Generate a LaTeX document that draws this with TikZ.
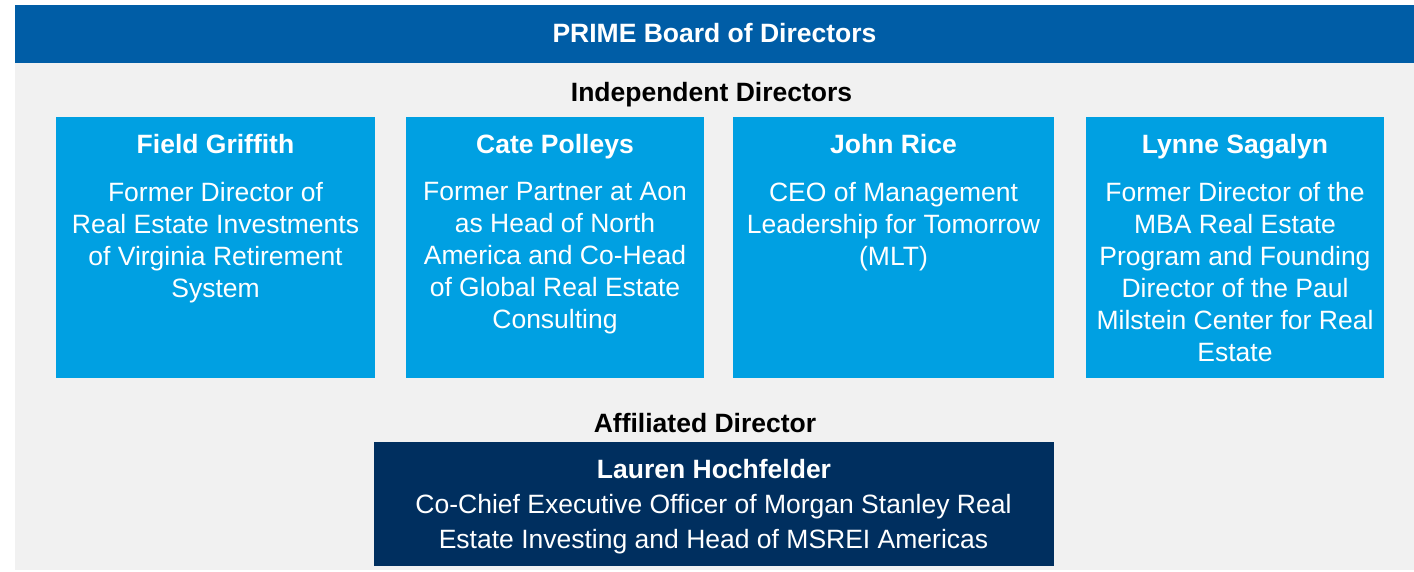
\documentclass[tikz,border=0pt]{standalone}
\usepackage{fontspec}
\setmainfont{Liberation Sans}
\definecolor{hdrblue}{RGB}{0,93,166}
\definecolor{cyanbox}{RGB}{0,160,226}
\definecolor{navybox}{RGB}{0,47,95}
\definecolor{bggray}{RGB}{241,241,241}
\begin{document}
\begin{tikzpicture}[x=1pt,y=-1pt,
  panel/.style={fill=#1,draw=none,inner sep=0pt,outer sep=0pt,anchor=north west},
  nametext/.style={font=\fontsize{26.5}{32}\selectfont\bfseries,text=white,anchor=base,inner sep=0pt},
  bodytext/.style={font=\fontsize{26.5}{32}\selectfont,text=white,align=center,anchor=north,inner sep=0pt},
  navybody/.style={font=\fontsize{26.5}{35}\selectfont,text=white,align=center,anchor=north,inner sep=0pt},
  heading/.style={font=\fontsize{26.5}{32}\selectfont\bfseries,text=black,anchor=base,inner sep=0pt}]
\useasboundingbox (0,0) rectangle (1414,571);
% background and header
\node[panel=bggray,minimum width=1399pt,minimum height=507pt] (bg) at (15,63) {};
\node[panel=hdrblue,minimum width=1399pt,minimum height=58pt] (hdr) at (15,5) {};
\node[nametext] (title) at (714.5,42.5) {PRIME Board of Directors};
\node[heading] (indep) at (711.5,101.5) {Independent Directors};
% independent director boxes
\node[panel=cyanbox,minimum width=319pt,minimum height=261pt] (b1) at (56,117) {};
\node[panel=cyanbox,minimum width=298pt,minimum height=261pt] (b2) at (406,117) {};
\node[panel=cyanbox,minimum width=321pt,minimum height=261pt] (b3) at (733,117) {};
\node[panel=cyanbox,minimum width=298pt,minimum height=261pt] (b4) at (1086,117) {};
\node[nametext] (n1) at (215.5,153.5) {Field Griffith};
\node[nametext] (n2) at (555,153.5) {Cate Polleys};
\node[nametext] (n3) at (893.5,153.5) {John Rice};
\node[nametext] (n4) at (1235,153.5) {Lynne Sagalyn};
\node[bodytext] (t1) at (215.5,182) {Former Director of\\Real Estate Investments\\of Virginia Retirement\\System};
\node[bodytext] (t2) at (555,182) {Former Partner at Aon\\as Head of North\\America and Co-Head\\of Global Real Estate\\Consulting};
\node[bodytext] (t3) at (893.5,182) {CEO of Management\\Leadership for Tomorrow\\(MLT)};
\node[bodytext] (t4) at (1235,182) {Former Director of the\\MBA Real Estate\\Program and Founding\\Director of the Paul\\Milstein Center for Real\\Estate};
% affiliated director
\node[heading] (affil) at (705,432.5) {Affiliated Director};
\node[panel=navybox,minimum width=680pt,minimum height=124pt] (b5) at (374,442) {};
\node[nametext] (n5) at (714,478.5) {Lauren Hochfelder};
\node[navybody] (t5) at (713.5,494) {Co-Chief Executive Officer of Morgan Stanley Real\\Estate Investing and Head of MSREI Americas};
\end{tikzpicture}
\end{document}
